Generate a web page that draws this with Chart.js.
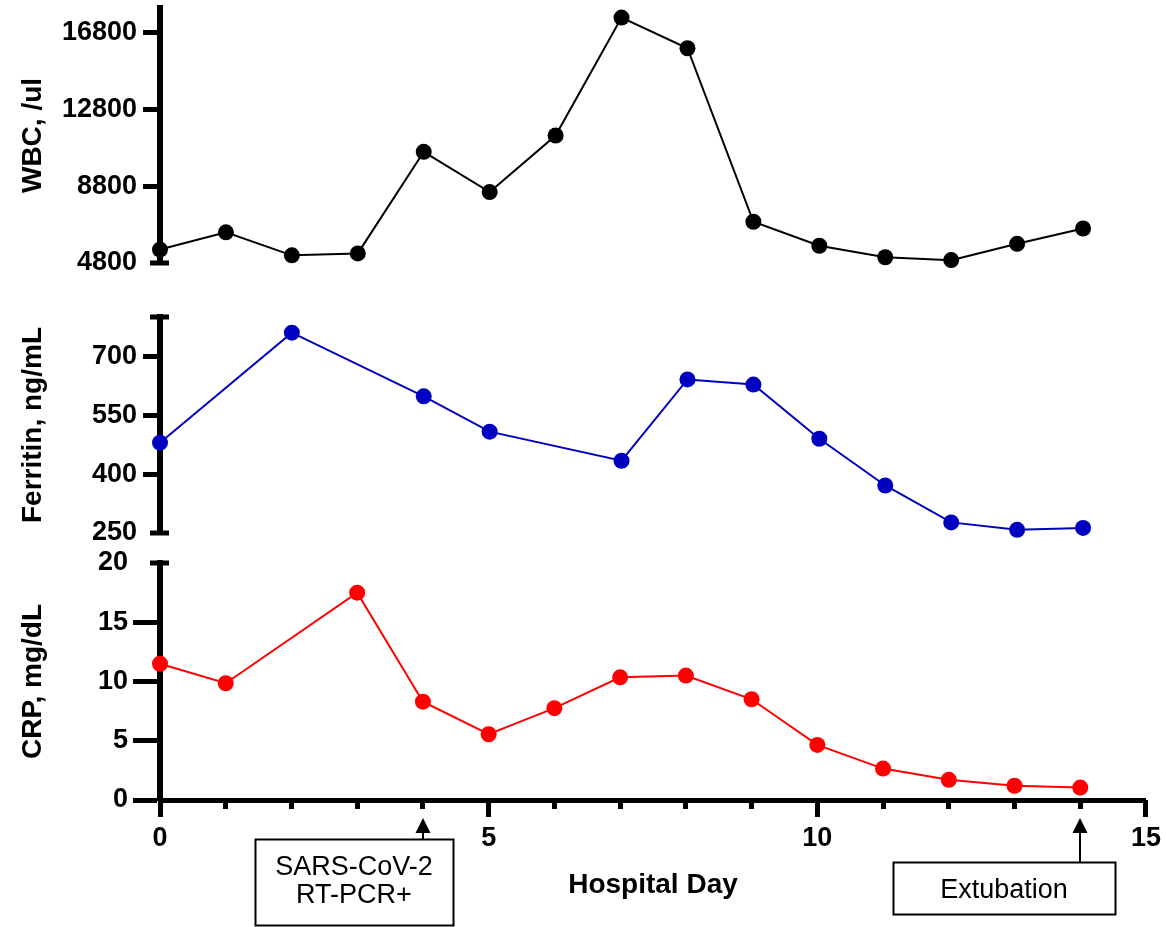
<!DOCTYPE html>
<html>
<head>
<meta charset="utf-8">
<title>WBC, Ferritin, CRP by hospital day</title>
<script src="https://cdn.jsdelivr.net/npm/chart.js@4.4.0/dist/chart.umd.min.js"></script>
<style>
    html, body { margin: 0; padding: 0; background: #fff; }
    #wrap { position: relative; width: 1166px; height: 927px; overflow: hidden; background: #fff; }
    #wrap canvas { position: absolute; left: 0; }
</style>
</head>
<body>
<div id="wrap">
    <canvas id="wbcChart" width="1166" height="310" style="top:-20px"></canvas>
    <canvas id="ferritinChart" width="1166" height="270" style="top:290px"></canvas>
    <canvas id="crpChart" width="1166" height="392" style="top:535px"></canvas>
</div>
<script>
// values
const wbcDays = [0, 1, 2, 3, 4, 5, 6, 7, 8, 9, 10, 11, 12, 13, 14];
const wbcValues = [5500, 6400, 5200, 5300, 10600, 8500, 11450, 17600, 16000, 6950, 5700, 5100, 4950, 5800, 6600];
const wbcTicks = [4800, 8800, 12800, 16800];

const ferritinDays = [0, 2, 4, 5, 7, 8, 9, 10, 11, 12, 13, 14];
const ferritinValues = [480, 760, 598, 508, 434, 641, 628, 490, 371, 277, 258, 263];
const ferritinTicks = [250, 400, 550, 700];

const crpDays = [0, 1, 3, 4, 5, 6, 7, 8, 9, 10, 11, 12, 13, 14];
const crpValues = [11.5, 9.85, 17.5, 8.3, 5.55, 7.75, 10.35, 10.5, 8.5, 4.65, 2.65, 1.7, 1.2, 1.05];
const crpTicks = [0, 5, 10, 15, 20];

const dayTicks = [0, 5, 10, 15];

const notes = [
    { day: 4, lines: ['SARS-CoV-2', 'RT-PCR+'] },
    { day: 14, lines: ['Extubation'] }
];

const FONT = '"Liberation Sans", Arial, Helvetica, sans-serif';
Chart.defaults.font.family = FONT;
Chart.defaults.color = '#000';

const AXIS_LEFT = 160;

// short bars across the axis ends, like the Prism style
function capsPlugin(capValues) {
    return {
        id: 'caps',
        beforeDatasetsDraw(chart) {
            const y = chart.scales.y;
            const ctx = chart.ctx;
            ctx.save();
            ctx.fillStyle = '#000';
            capValues.forEach(v => {
                const py = y.getPixelForValue(v);
                ctx.fillRect(AXIS_LEFT - 10, py - 2.5, 19, 5);
            });
            ctx.restore();
        }
    };
}

// boxes + arrows under the x axis
const noteBoxes = {
    4: { dx: -168, w: 198, top: 39, h: 86 },
    14: { dx: -187, w: 222, top: 62, h: 52 }
};

const notesPlugin = {
    id: 'notes',
    afterDraw(chart) {
        const ctx = chart.ctx;
        const xs = chart.scales.x;
        const base = chart.chartArea.bottom;
        ctx.save();
        notes.forEach(n => {
            const ax = Math.round(xs.getPixelForValue(n.day));
            const b = noteBoxes[n.day];
            const top = base + b.top;
            // arrow
            ctx.strokeStyle = '#000';
            ctx.fillStyle = '#000';
            ctx.lineWidth = 2;
            ctx.beginPath();
            ctx.moveTo(ax, top);
            ctx.lineTo(ax, base + 30);
            ctx.stroke();
            ctx.beginPath();
            ctx.moveTo(ax, base + 18);
            ctx.lineTo(ax - 7.5, base + 33);
            ctx.lineTo(ax + 7.5, base + 33);
            ctx.closePath();
            ctx.fill();
            // box
            ctx.strokeRect(ax + b.dx + 0.5, top + 0.5, b.w, b.h);
            // text
            ctx.font = '27px ' + FONT;
            ctx.textAlign = 'center';
            ctx.textBaseline = 'alphabetic';
            n.lines.forEach((line, i) => {
                ctx.fillText(line, ax + b.dx + b.w / 2, top + 36 + i * 28);
            });
        });
        ctx.restore();
    }
};

function yScale(min, max, ticks, title, tickLen, labelPad, noTickAt) {
    return {
        type: 'linear',
        min: min,
        max: max,
        afterBuildTicks: (scale) => {
            scale.ticks = ticks.map(v => ({ value: v }));
        },
        afterFit: (scale) => {
            scale.width = AXIS_LEFT;
        },
        ticks: {
            font: { size: 27, weight: 'bold' },
            color: '#000',
            padding: labelPad,
            callback: (v) => String(v)
        },
        grid: {
            drawOnChartArea: false,
            drawTicks: true,
            tickLength: tickLen,
            tickWidth: 5,
            tickColor: (ctx) => (ctx.tick && noTickAt.includes(ctx.tick.value)) ? 'rgba(0,0,0,0)' : '#000'
        },
        border: { display: true, color: '#000', width: 6 },
        title: {
            display: true,
            text: title,
            color: '#000',
            font: { size: 28, weight: 'bold' },
            padding: { top: 16, bottom: 0 }
        }
    };
}

function lineDataset(days, values, color) {
    return {
        data: days.map((d, i) => ({ x: d, y: values[i] })),
        borderColor: color,
        backgroundColor: color,
        borderWidth: 2,
        pointRadius: 8,
        pointHoverRadius: 8,
        pointBorderWidth: 0,
        pointBackgroundColor: color,
        tension: 0,
        clip: false
    };
}

const baseOptions = {
    responsive: false,
    animation: false,
    plugins: { legend: { display: false }, tooltip: { enabled: false } }
};

// WBC
new Chart(document.getElementById('wbcChart'), {
    type: 'line',
    data: { datasets: [lineDataset(wbcDays, wbcValues, '#000000')] },
    options: {
        ...baseOptions,
        layout: { padding: { top: 28, bottom: 27, left: 0, right: 17 } },
        scales: {
            x: { type: 'linear', min: 0, max: 15, display: false },
            y: yScale(4800, 18100, wbcTicks, 'WBC, /ul', 17, 6, [4800])
        }
    },
    plugins: [capsPlugin([4800])]
});

// Ferritin
new Chart(document.getElementById('ferritinChart'), {
    type: 'line',
    data: { datasets: [lineDataset(ferritinDays, ferritinValues, '#0000C0')] },
    options: {
        ...baseOptions,
        layout: { padding: { top: 27, bottom: 27, left: 0, right: 17 } },
        scales: {
            x: { type: 'linear', min: 0, max: 15, display: false },
            y: yScale(250, 800, ferritinTicks, 'Ferritin, ng/mL', 17, 6, [250])
        }
    },
    plugins: [capsPlugin([250, 800])]
});

// CRP + shared x axis
new Chart(document.getElementById('crpChart'), {
    type: 'line',
    data: { datasets: [lineDataset(crpDays, crpValues, '#FF0000')] },
    options: {
        ...baseOptions,
        layout: { padding: { top: 28, bottom: 25, left: 0, right: 17 } },
        scales: {
            x: {
                type: 'linear',
                position: 'bottom',
                min: 0,
                max: 15,
                afterFit: (scale) => { scale.height = 0; },
                ticks: { stepSize: 1, display: false },
                grid: { drawOnChartArea: false, drawTicks: true, tickLength: 9, tickWidth: 5, tickColor: '#000' },
                border: { display: true, color: '#000', width: 5 }
            },
            x2: {
                type: 'linear',
                position: 'bottom',
                min: 0,
                max: 15,
                afterBuildTicks: (scale) => {
                    scale.ticks = dayTicks.map(v => ({ value: v }));
                },
                afterFit: (scale) => { scale.height = 102; },
                ticks: { font: { size: 27, weight: 'bold' }, color: '#000', padding: 5, maxRotation: 0, autoSkip: false },
                grid: { drawOnChartArea: false, drawTicks: true, tickLength: 17, tickWidth: 5, tickColor: '#000' },
                border: { display: false },
                title: {
                    display: true,
                    text: 'Hospital Day',
                    color: '#000',
                    font: { size: 28, weight: 'bold' },
                    padding: { top: 0, bottom: 0 }
                }
            },
            y: yScale(0, 20, crpTicks, 'CRP, mg/dL', 27, 5, [20])
        }
    },
    plugins: [capsPlugin([20]), notesPlugin]
});
</script>
</body>
</html>
